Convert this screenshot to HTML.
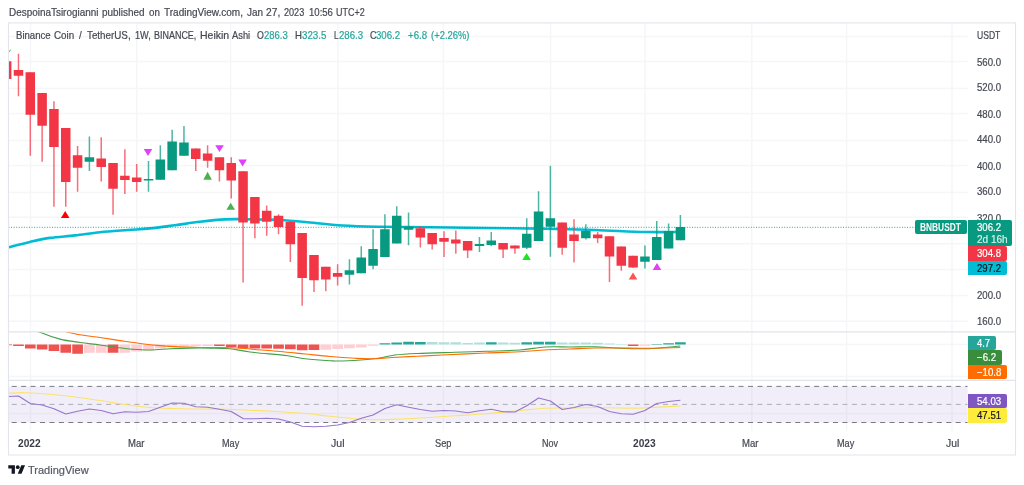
<!DOCTYPE html>
<html lang="en"><head><meta charset="utf-8"><title>BNBUSDT chart</title>
<style>
html,body{margin:0;padding:0;background:#fff;}
body{width:1024px;height:485px;overflow:hidden;position:relative;font-family:"Liberation Sans",Arial,sans-serif;}
#wrap{position:absolute;left:0;top:0;width:1024px;height:485px;overflow:hidden;background:#fff;}
#chart{position:absolute;left:0;top:0;display:block;}
.t{position:absolute;white-space:pre;line-height:14px;height:14px;font-size:10.2px;transform-origin:0 0;-webkit-text-stroke:0.2px currentColor;}
.b{position:absolute;border-radius:0 2px 2px 0;}
</style></head><body><div id="wrap">
<svg id="chart" width="1024" height="485" viewBox="0 0 1024 485">
<defs><clipPath id="cp"><rect x="8.5" y="22.9" width="959.1" height="408.1"/></clipPath>
<clipPath id="cm"><rect x="8.5" y="331.9" width="959.1" height="48.4"/></clipPath>
<clipPath id="cr"><rect x="8.5" y="380.3" width="959.1" height="50.7"/></clipPath></defs>
<path d="M8.5 36.5H967.6M8.5 61.5H967.6M8.5 88.5H967.6M8.5 113.5H967.6M8.5 140.4H967.6M8.5 165.5H967.6M8.5 192.4H967.6M8.5 217.3H967.6M8.5 243.75H967.6M8.5 269.5H967.6M8.5 295.5H967.6M8.5 321.3H967.6M8.5 344.5H967.6M8.5 376.4H967.6M8.5 413.4H967.6M30.5 22.9V431M136.8 22.9V431M230.7 22.9V431M337.9 22.9V431M443.4 22.9V431M550.6 22.9V431M645.1 22.9V431M751.8 22.9V431M846.6 22.9V431M952 22.9V431" stroke="#F5F6F7" stroke-width="1.5" fill="none"/>
<rect x="8.5" y="386.4" width="959.1" height="36.1" fill="#7E57C2" fill-opacity="0.1"/>
<path d="M8.5 386.4H967.6 M8.5 422.5H967.6" stroke="#787B86" stroke-width="1" stroke-dasharray="5 4.44" stroke-dashoffset="-3.2" fill="none"/>
<path d="M8.5 404.4H967.6" stroke="#A3A6AF" stroke-width="0.9" stroke-dasharray="5 4.44" stroke-dashoffset="-3.2" fill="none"/>
<path d="M8.5 247.25C12.08 246.36 23.08 243.46 30 241.9C36.92 240.34 42.5 238.98 50 237.9C57.5 236.82 66.67 236.35 75 235.4C83.33 234.45 91.17 233.1 100 232.2C108.83 231.3 119.67 230.63 128 230C136.33 229.37 142.17 229.2 150 228.4C157.83 227.6 166.67 226.3 175 225.2C183.33 224.1 191.67 222.77 200 221.8C208.33 220.83 217.5 219.83 225 219.4C232.5 218.97 238.33 219.17 245 219.2C251.67 219.23 259.17 219.47 265 219.6C270.83 219.73 273.33 219.6 280 220C286.67 220.4 294.58 221.08 305 222C315.42 222.92 330 224.71 342.5 225.5C355 226.29 365.42 226.46 380 226.75C394.58 227.04 412.33 227.04 430 227.25C447.67 227.46 466.83 227.75 486 228C505.17 228.25 526.83 228.42 545 228.75C563.17 229.08 578.33 229.46 595 230C611.67 230.54 630.78 231.67 645 232C659.22 232.33 674.42 232 680.3 232" stroke="#00BCD4" stroke-width="2.6" fill="none" stroke-linecap="round" clip-path="url(#cp)"/>
<g clip-path="url(#cp)">
<path d="M6.66 61.25V79M18.48 53.75V96.25M30.3 72.25V155.75M42.12 93V161.75M53.94 101.25V206.75M65.76 128V206.75M77.58 146V191.75M101.22 137.25V181.5M113.04 163V214.75M124.86 149.25V194M136.68 164V191.75M195.78 148.5V171M207.6 145.25V167.75M219.42 157.25V181.5M231.24 157.25V198.5M243.06 171.25V282.5M254.88 197V238.25M266.7 205.5V235.75M278.52 214.25V234.25M290.34 222V262M302.16 233V305.75M313.98 255V292M325.8 266.75V291.25M337.62 264.25V285.5M420.36 226.25V247.6M432.18 233V249.5M444 231.25V257M455.82 230.4V253.75M467.64 241V258M503.1 243V258M514.92 245.5V253.75M562.2 222.5V254.75M574.02 219.25V262.5M597.66 232V243M609.48 236.25V282M621.3 246.4V270.75M633.12 255.75V268" stroke="#F23645" stroke-width="1.5" stroke-opacity="0.72" fill="none"/>
<path d="M89.4 136.5V171M148.5 161V191.75M160.32 145.25V179.75M172.14 129.75V170.25M183.96 126V155.75M349.44 259.25V284.5M361.26 246.25V273.25M373.08 229.25V269.25M384.9 214.25V257M396.72 206.25V243.5M408.54 212.5V245.25M479.46 237V252M491.28 232V246.25M526.74 218.25V249M538.56 191.25V241M550.38 165.75V256.75M585.84 224.25V239.5M644.94 245.6V268.5M656.76 220.9V259.9M668.58 223.5V248.6M680.4 215V240.3" stroke="#089981" stroke-width="1.5" stroke-opacity="0.72" fill="none"/>
<path d="M1.91 61.25h9.5V79h-9.5ZM13.73 70h9.5V75.75h-9.5ZM25.55 72.25h9.5V114.75h-9.5ZM37.37 93h9.5V125.75h-9.5ZM49.19 109h9.5V147h-9.5ZM61.01 128h9.5V182h-9.5ZM72.83 155.25h9.5V167.75h-9.5ZM96.47 158.5h9.5V167h-9.5ZM108.29 163h9.5V188.75h-9.5ZM120.11 175.75h9.5V180h-9.5ZM131.93 177.5h9.5V182h-9.5ZM191.03 148.5h9.5V159h-9.5ZM202.85 153.5h9.5V160.75h-9.5ZM214.67 157.25h9.5V170.25h-9.5ZM226.49 163h9.5V180.5h-9.5ZM238.31 171.25h9.5V222.5h-9.5ZM250.13 197h9.5V223.5h-9.5ZM261.95 210.75h9.5V221.75h-9.5ZM273.77 215.75h9.5V227h-9.5ZM285.59 222h9.5V244.25h-9.5ZM297.41 233h9.5V278h-9.5ZM309.23 255h9.5V280.25h-9.5ZM321.05 266.75h9.5V279.5h-9.5ZM332.87 273h9.5V276.75h-9.5ZM415.61 228.25h9.5V237.6h-9.5ZM427.43 233h9.5V244.25h-9.5ZM439.25 238h9.5V241.75h-9.5ZM451.07 239.6h9.5V243.6h-9.5ZM462.89 241h9.5V250.4h-9.5ZM498.35 243h9.5V249.5h-9.5ZM510.17 245.5h9.5V248.5h-9.5ZM557.45 222.5h9.5V247.75h-9.5ZM569.27 234.5h9.5V241h-9.5ZM592.91 234.5h9.5V238.25h-9.5ZM604.73 236.25h9.5V256.5h-9.5ZM616.55 246.4h9.5V265.75h-9.5ZM628.37 255.75h9.5V267.5h-9.5Z" fill="#F23645"/>
<path d="M84.65 157.25h9.5V161.75h-9.5ZM143.75 179h9.5V180.5h-9.5ZM155.57 159.5h9.5V179.75h-9.5ZM167.39 141.5h9.5V170.25h-9.5ZM179.21 142.5h9.5V155.75h-9.5ZM344.69 270.25h9.5V274.75h-9.5ZM356.51 257.5h9.5V273.25h-9.5ZM368.33 249h9.5V265.75h-9.5ZM380.15 229.25h9.5V257h-9.5ZM391.97 215.75h9.5V243.5h-9.5ZM403.79 226.5h9.5V229.75h-9.5ZM474.71 244h9.5V245.9h-9.5ZM486.53 240.5h9.5V245h-9.5ZM521.99 233.75h9.5V247.75h-9.5ZM533.81 211.5h9.5V241h-9.5ZM545.63 218.25h9.5V226.75h-9.5ZM581.09 231h9.5V238.25h-9.5ZM640.19 256.6h9.5V261.8h-9.5ZM652.01 237h9.5V259.9h-9.5ZM663.83 231h9.5V248.6h-9.5ZM675.65 227h9.5V240.3h-9.5Z" fill="#089981"/>
<path d="M8.5 51.8L10.6 49.2L10.6 50.2L9 52.4Z" fill="#4CAF50"/>
</g>
<path d="M65.2 211L69.5 218H60.9Z" fill="#FF0000"/>
<path d="M148 156L152.3 149H143.7Z" fill="#E040FB"/>
<path d="M207.6 171.75L211.9 179.75H203.3Z" fill="#4CAF50"/>
<path d="M219.5 152L223.8 145.25H215.2Z" fill="#E040FB"/>
<path d="M230.7 202.75L235 209.75H226.4Z" fill="#4CAF50"/>
<path d="M242.6 166.5L246.9 159.5H238.3Z" fill="#E040FB"/>
<path d="M526.6 253L530.9 260H522.3Z" fill="#1EE61E"/>
<path d="M633 272.4L637.3 279.5H628.7Z" fill="#FF5252"/>
<path d="M657 262.9L661.3 270H652.7Z" fill="#E040FB"/>
<path d="M8.5 227.3H967.6" stroke="#089981" stroke-width="1" stroke-dasharray="1 1.56" fill="none" opacity="0.85"/>
<g clip-path="url(#cm)">
<path d="M1.31 344.5h10.7V345.3h-10.7ZM13.13 344.5h10.7V345.9h-10.7ZM24.95 344.5h10.7V348.5h-10.7ZM36.77 344.5h10.7V349.4h-10.7ZM48.59 344.5h10.7V350.9h-10.7ZM60.41 344.5h10.7V352.75h-10.7ZM72.23 344.5h10.7V353.75h-10.7ZM107.69 344.5h10.7V352.75h-10.7ZM214.07 344.5h10.7V346h-10.7ZM225.89 344.5h10.7V347h-10.7ZM237.71 344.5h10.7V348.1h-10.7ZM249.53 344.5h10.7V348.5h-10.7ZM261.35 344.5h10.7V348.5h-10.7ZM273.17 344.5h10.7V348.75h-10.7ZM284.99 344.5h10.7V349.25h-10.7ZM296.81 344.5h10.7V350.25h-10.7ZM308.63 344.5h10.7V350h-10.7ZM627.77 344.5h10.7V346h-10.7Z" fill="#EF5350"/>
<path d="M84.05 344.5h10.7V352.75h-10.7ZM95.87 344.5h10.7V352.75h-10.7ZM119.51 344.5h10.7V352.75h-10.7ZM131.33 344.5h10.7V351.6h-10.7ZM143.15 344.5h10.7V350.6h-10.7ZM154.97 344.5h10.7V348.5h-10.7ZM166.79 344.5h10.7V347h-10.7ZM178.61 344.5h10.7V346h-10.7ZM190.43 344.5h10.7V346h-10.7ZM202.25 344.5h10.7V346h-10.7ZM320.45 344.5h10.7V349.75h-10.7ZM332.27 344.5h10.7V349h-10.7ZM344.09 344.5h10.7V348.25h-10.7ZM355.91 344.5h10.7V347.5h-10.7ZM367.73 344.5h10.7V345.75h-10.7ZM639.59 344.5h10.7V345.75h-10.7Z" fill="#FFCDD2"/>
<path d="M379.55 343.25h10.7V344.5h-10.7ZM391.37 342.5h10.7V344.5h-10.7ZM403.19 341.75h10.7V344.5h-10.7ZM415.01 342h10.7V344.5h-10.7ZM485.93 342.25h10.7V344.5h-10.7ZM521.39 342.25h10.7V344.5h-10.7ZM533.21 341.75h10.7V344.5h-10.7ZM545.03 341.75h10.7V344.5h-10.7ZM651.41 343.9h10.7V344.5h-10.7ZM663.23 343.25h10.7V344.5h-10.7ZM675.05 342.25h10.7V344.5h-10.7Z" fill="#26A69A"/>
<path d="M426.83 342h10.7V344.5h-10.7ZM438.65 342.25h10.7V344.5h-10.7ZM450.47 342.25h10.7V344.5h-10.7ZM462.29 343h10.7V344.5h-10.7ZM474.11 342.6h10.7V344.5h-10.7ZM497.75 342.5h10.7V344.5h-10.7ZM509.57 342.75h10.7V344.5h-10.7ZM556.85 342.5h10.7V344.5h-10.7ZM568.67 342.5h10.7V344.5h-10.7ZM580.49 342.5h10.7V344.5h-10.7ZM592.31 342.75h10.7V344.5h-10.7ZM604.13 343.5h10.7V344.5h-10.7ZM615.95 344.1h10.7V344.5h-10.7Z" fill="#B2DFDB"/>
<path d="M8.5 318C13.75 320.38 31.42 328.73 40 332.25C48.58 335.77 53.33 337.39 60 339.1C66.67 340.81 73.33 341.52 80 342.5C86.67 343.48 92.5 344 100 345C107.5 346 116.67 347.67 125 348.5C133.33 349.33 142.5 349.96 150 350C157.5 350.04 163.33 349.07 170 348.75C176.67 348.43 183.33 348.21 190 348.1C196.67 347.99 203.33 347.99 210 348.1C216.67 348.21 223.33 348.1 230 348.75C236.67 349.4 240.42 350.83 250 352C259.58 353.17 278.33 354.62 287.5 355.75C296.67 356.88 297.92 357.92 305 358.75C312.08 359.58 323.75 360.38 330 360.75C336.25 361.12 336.25 361.21 342.5 361C348.75 360.79 361.25 360 367.5 359.5C373.75 359 375.42 358.75 380 358C384.58 357.25 388.75 355.75 395 355C401.25 354.25 407.5 353.96 417.5 353.5C427.5 353.04 443.58 352.62 455 352.25C466.42 351.88 475.17 351.62 486 351.25C496.83 350.88 510.17 350.71 520 350C529.83 349.29 536.67 347.5 545 347C553.33 346.5 561.67 347.04 570 347C578.33 346.96 586.67 346.54 595 346.75C603.33 346.96 611.67 347.92 620 348.25C628.33 348.58 637.5 348.88 645 348.75C652.5 348.62 659.12 347.96 665 347.5C670.88 347.04 677.75 346.25 680.3 346" stroke="#43A047" stroke-width="1.1" fill="none"/>
<path d="M8.5 312C18.43 315.38 52.85 328 68.1 332.25C83.35 336.5 91.35 336.11 100 337.5C108.65 338.89 113.33 339.6 120 340.6C126.67 341.6 133.33 342.67 140 343.5C146.67 344.33 153.33 345.03 160 345.6C166.67 346.17 173.33 346.58 180 346.9C186.67 347.22 193.33 347.4 200 347.5C206.67 347.6 213.33 347.4 220 347.5C226.67 347.6 234.17 347.77 240 348.1C245.83 348.43 248.33 348.93 255 349.5C261.67 350.07 271.67 350.75 280 351.5C288.33 352.25 296.67 353.17 305 354C313.33 354.83 321.67 355.79 330 356.5C338.33 357.21 347.92 357.88 355 358.25C362.08 358.62 366.25 358.88 372.5 358.75C378.75 358.62 385 357.92 392.5 357.5C400 357.08 409.17 356.67 417.5 356.25C425.83 355.83 431.08 355.54 442.5 355C453.92 354.46 473.08 353.54 486 353C498.92 352.46 510.17 352.25 520 351.75C529.83 351.25 536.67 350.46 545 350C553.33 349.54 561.67 349.33 570 349C578.33 348.67 586.67 348.17 595 348C603.33 347.83 611.67 347.96 620 348C628.33 348.04 634.95 348.33 645 348.25C655.05 348.17 674.42 347.62 680.3 347.5" stroke="#FF6D00" stroke-width="1.1" fill="none"/>
</g>
<g clip-path="url(#cr)">
<path d="M8.5 393.25C11.25 393.17 18.08 392.58 25 392.75C31.92 392.92 41.67 393.54 50 394.25C58.33 394.96 66.67 395.96 75 397C83.33 398.04 91.67 399.25 100 400.5C108.33 401.75 116.67 403.33 125 404.5C133.33 405.67 141.67 406.83 150 407.5C158.33 408.17 166.67 408.25 175 408.5C183.33 408.75 191.67 408.88 200 409C208.33 409.12 216.67 409.04 225 409.25C233.33 409.46 240.83 409.83 250 410.25C259.17 410.67 270.83 411.21 280 411.75C289.17 412.29 296.67 412.75 305 413.5C313.33 414.25 321.67 415.38 330 416.25C338.33 417.12 346.67 418.17 355 418.75C363.33 419.33 371.67 419.75 380 419.75C388.33 419.75 396.67 419.12 405 418.75C413.33 418.38 421.67 418 430 417.5C438.33 417 445.67 416.38 455 415.75C464.33 415.12 475.17 414.62 486 413.75C496.83 412.88 510.17 411.42 520 410.5C529.83 409.58 536.67 408.67 545 408.25C553.33 407.83 561.67 408.12 570 408C578.33 407.88 586.67 407.5 595 407.5C603.33 407.5 611.67 407.92 620 408C628.33 408.08 634.95 408.33 645 408C655.05 407.67 674.42 406.33 680.3 406" stroke="#FBE36B" stroke-width="1.2" fill="none"/>
<path d="M8.5 396.5L18.48 396L30.3 403.5L42.12 405L53.94 408.75L65.76 414L77.58 411.25L89.4 409L101.22 410.5L113.04 413.75L124.86 411.75L136.68 412.25L148.5 411.5L160.32 407.25L172.14 403L183.96 403.25L195.78 406.75L207.6 407.25L219.42 409.25L231.24 411.5L243.06 418.6L254.88 418.75L266.7 418.25L278.52 419L290.34 422L302.16 426.25L313.98 426.75L325.8 426.25L337.62 425L349.44 422.5L361.26 418.25L373.08 415L384.9 408.5L396.72 404.75L408.54 407.25L420.36 409.5L432.18 411.25L444 410.5L455.82 411L467.64 412.75L479.46 410.75L491.28 409.25L503.1 411.75L514.92 412L526.74 405.75L538.56 398L550.38 401L562.2 409.5L574.02 407.5L585.84 404.5L597.66 406.5L609.48 411.5L621.3 413.75L633.12 414.25L644.94 410.5L656.76 403.5L668.58 401.5L680.4 400.25" stroke="#9575CD" stroke-width="1.2" fill="none" stroke-linejoin="round"/>
</g>
<rect x="8.5" y="22.9" width="1007" height="432.1" fill="none" stroke="#E2E5EC" stroke-width="1.1"/>
<path d="M8.5 331.9H1015.5M8.5 380.3H1015.5" stroke="#E0E3EB" stroke-width="1.2" fill="none"/>
<g transform="translate(8.3 463.35) scale(0.4722)" fill="#131722"><path d="M14 22H7V11H0V4h14v18zM28 22h-8l7.5-18h8L28 22z"/><circle cx="20" cy="8" r="4"/></g>
</svg>
<div id="texts">
<span class="t" style="left:8.75px;top:6px;color:#454852;transform:scaleX(0.975);">DespoinaTsirogianni</span>
<span class="t" style="left:101.9px;top:6px;color:#454852;transform:scaleX(0.975);">published</span>
<span class="t" style="left:148.75px;top:6px;color:#454852;transform:scaleX(0.961);">on</span>
<span class="t" style="left:163.75px;top:6px;color:#454852;transform:scaleX(0.982);">TradingView.com,</span>
<span class="t" style="left:246.9px;top:6px;color:#454852;transform:scaleX(0.974);">Jan</span>
<span class="t" style="left:265.6px;top:6px;color:#454852;transform:scaleX(1.005);">27,</span>
<span class="t" style="left:283.5px;top:6px;color:#454852;transform:scaleX(0.891);">2023</span>
<span class="t" style="left:308.5px;top:6px;color:#454852;transform:scaleX(0.939);">10:56</span>
<span class="t" style="left:336px;top:6px;color:#454852;transform:scaleX(0.882);">UTC+2</span>
<span class="t" style="left:15.6px;top:29px;color:#454852;transform:scaleX(0.942);">Binance</span>
<span class="t" style="left:54.4px;top:29px;color:#454852;transform:scaleX(0.966);">Coin</span>
<span class="t" style="left:79px;top:29px;color:#454852;transform:scaleX(0.967);">/</span>
<span class="t" style="left:86.6px;top:29px;color:#454852;transform:scaleX(0.963);">TetherUS,</span>
<span class="t" style="left:134.75px;top:29px;color:#454852;transform:scaleX(0.897);">1W,</span>
<span class="t" style="left:154px;top:29px;color:#454852;transform:scaleX(0.880);">BINANCE,</span>
<span class="t" style="left:200px;top:29px;color:#454852;transform:scaleX(1.031);">Heikin</span>
<span class="t" style="left:232.1px;top:29px;color:#454852;transform:scaleX(0.915);">Ashi</span>
<span class="t" style="left:257.1px;top:29px;color:#454852;transform:scaleX(0.862);">O</span>
<span class="t" style="left:295.4px;top:29px;color:#454852;transform:scaleX(0.943);">H</span>
<span class="t" style="left:333.75px;top:29px;color:#454852;transform:scaleX(0.792);">L</span>
<span class="t" style="left:369.75px;top:29px;color:#454852;transform:scaleX(0.893);">C</span>
<span class="t" style="left:264px;top:29px;color:#26A69A;transform:scaleX(0.933);">286.3</span>
<span class="t" style="left:302.25px;top:29px;color:#26A69A;transform:scaleX(0.954);">323.5</span>
<span class="t" style="left:338.75px;top:29px;color:#26A69A;transform:scaleX(0.943);">286.3</span>
<span class="t" style="left:376.25px;top:29px;color:#26A69A;transform:scaleX(0.943);">306.2</span>
<span class="t" style="left:407.5px;top:29px;color:#26A69A;transform:scaleX(0.949);">+6.8</span>
<span class="t" style="left:430.6px;top:29px;color:#26A69A;transform:scaleX(0.925);">(+2.26%)</span>
<span class="t" style="left:976.6px;top:29px;color:#454852;transform:scaleX(0.842);">USDT</span>
<span class="t" style="left:976.6px;top:56px;color:#454852;transform:scaleX(0.945);">560.0</span>
<span class="t" style="left:976.6px;top:81px;color:#454852;transform:scaleX(0.945);">520.0</span>
<span class="t" style="left:976.6px;top:108px;color:#454852;transform:scaleX(0.945);">480.0</span>
<span class="t" style="left:976.6px;top:133px;color:#454852;transform:scaleX(0.945);">440.0</span>
<span class="t" style="left:976.6px;top:160px;color:#454852;transform:scaleX(0.945);">400.0</span>
<span class="t" style="left:976.6px;top:185px;color:#454852;transform:scaleX(0.945);">360.0</span>
<span class="t" style="left:976.6px;top:212px;color:#454852;transform:scaleX(0.945);">320.0</span>
<span class="t" style="left:976.6px;top:289px;color:#454852;transform:scaleX(0.945);">200.0</span>
<span class="t" style="left:976.6px;top:315px;color:#454852;transform:scaleX(0.945);">160.0</span>
<span class="t" style="left:18.35px;top:437px;color:#3A3D48;font-weight:700;-webkit-text-stroke:0;transform:scaleX(0.996);">2022</span>
<span class="t" style="left:127.5px;top:437px;color:#454852;transform:scaleX(0.937);">Mar</span>
<span class="t" style="left:221.5px;top:437px;color:#454852;transform:scaleX(0.893);">May</span>
<span class="t" style="left:330.5px;top:437px;color:#454852;transform:scaleX(1.035);">Jul</span>
<span class="t" style="left:435.02px;top:437px;color:#454852;transform:scaleX(0.907);">Sep</span>
<span class="t" style="left:541.62px;top:437px;color:#454852;transform:scaleX(0.881);">Nov</span>
<span class="t" style="left:633px;top:437px;color:#3A3D48;font-weight:700;-webkit-text-stroke:0;">2023</span>
<span class="t" style="left:742px;top:437px;color:#454852;transform:scaleX(0.937);">Mar</span>
<span class="t" style="left:836.5px;top:437px;color:#454852;transform:scaleX(0.893);">May</span>
<span class="t" style="left:945.5px;top:437px;color:#454852;transform:scaleX(1.019);">Jul</span>
<span class="t" style="left:28.3px;top:463px;color:#555863;font-size:11.2px;transform:scaleX(0.984);">TradingView</span>
</div><div id="labels">
<div class="b" style="left:915px;top:220px;width:52.2px;height:14px;background:#089981;border-radius:2px"></div>
<div class="b" style="left:967.8px;top:220px;width:44.2px;height:26px;background:#089981"></div>
<div class="b" style="left:967.8px;top:246.3px;width:39.2px;height:14.3px;background:#F23645"></div>
<div class="b" style="left:967.8px;top:261px;width:39.2px;height:14px;background:#00BCD4"></div>
<div class="b" style="left:967.8px;top:336px;width:28px;height:14px;background:#26A69A"></div>
<div class="b" style="left:967.8px;top:350.4px;width:34.2px;height:14.2px;background:#388E3C"></div>
<div class="b" style="left:967.8px;top:365px;width:39.2px;height:14px;background:#FF6D00"></div>
<div class="b" style="left:967.8px;top:393.75px;width:39.2px;height:14px;background:#7E57C2"></div>
<div class="b" style="left:967.8px;top:408.25px;width:39.2px;height:14.5px;background:#FFEB3B"></div>
<span class="t" style="left:919.75px;top:221px;color:#FFFFFF;font-weight:700;-webkit-text-stroke:0;transform:scaleX(0.820);">BNBUSDT</span>
<span class="t" style="left:976.6px;top:221px;color:#FFFFFF;transform:scaleX(0.945);">306.2</span>
<span class="t" style="left:976.6px;top:233px;color:#D5EEEA;transform:scaleX(0.984);">2d 16h</span>
<span class="t" style="left:976.6px;top:247px;color:#FFFFFF;transform:scaleX(0.945);">304.8</span>
<span class="t" style="left:976.6px;top:262px;color:#131722;transform:scaleX(0.945);">297.2</span>
<span class="t" style="left:976.6px;top:337px;color:#FFFFFF;transform:scaleX(0.924);">4.7</span>
<span class="t" style="left:976.6px;top:351px;color:#FFFFFF;transform:scaleX(0.949);">−6.2</span>
<span class="t" style="left:976.6px;top:366px;color:#FFFFFF;transform:scaleX(0.942);">−10.8</span>
<span class="t" style="left:976.6px;top:395px;color:#FFFFFF;transform:scaleX(0.945);">54.03</span>
<span class="t" style="left:976.6px;top:409px;color:#131722;transform:scaleX(0.945);">47.51</span>
</div></div></body></html>
